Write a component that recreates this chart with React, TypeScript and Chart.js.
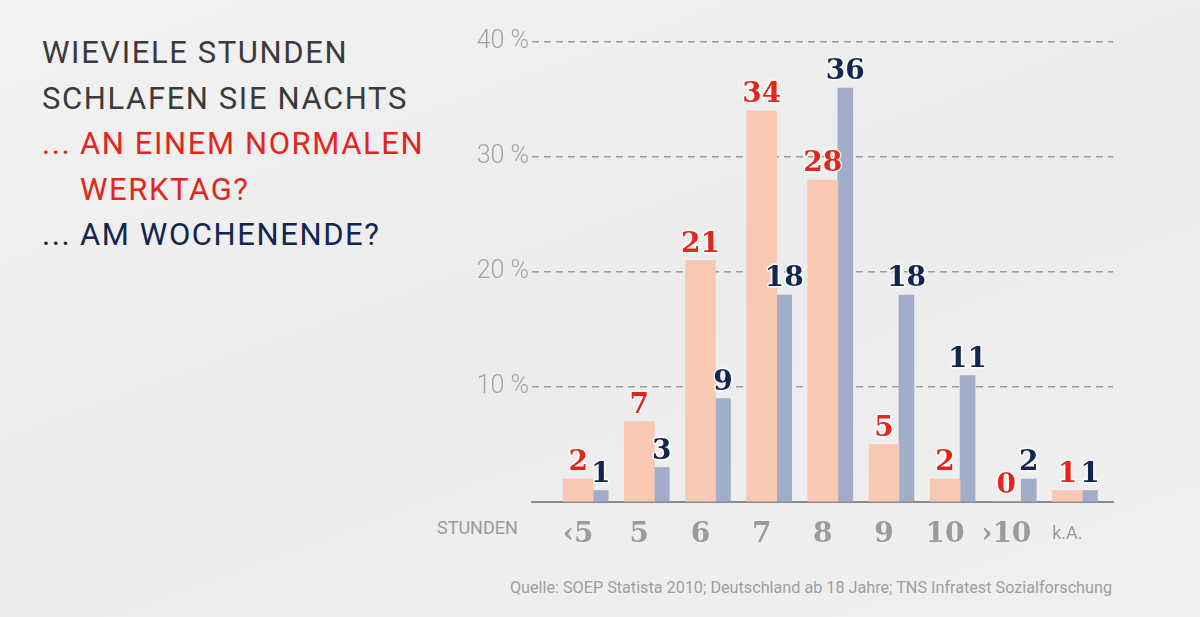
import React, { useEffect, useRef } from 'react';
import { Chart, registerables } from 'chart.js';

Chart.register(...registerables);

const categories = ['‹5', '5', '6', '7', '8', '9', '10', '›10', 'k.A.'];
const werktag = [2, 7, 21, 34, 28, 5, 2, 0, 1];
const wochenende = [1, 3, 9, 18, 36, 18, 11, 2, 1];
const yTickStep = 10;
const yMax = 40;

const PINK = '#f9c8b3';
const BLUE = '#a2adca';
const RED = '#e3261c';
const NAVY = '#112650';
const labelColors = [RED, NAVY];

const valueLabels = {
  id: 'valueLabels',
  afterDatasetsDraw(chart: any) {
    const ctx = chart.ctx;
    chart.data.datasets.forEach((ds: any, di: number) => {
      const meta = chart.getDatasetMeta(di);
      meta.data.forEach((el: any, i: number) => {
        const v = ds.data[i].y;
        ctx.save();
        ctx.font = 'bold 28px "DejaVu Serif"';
        ctx.textAlign = 'center';
        ctx.textBaseline = 'alphabetic';
        ctx.lineJoin = 'round';
        ctx.lineWidth = 3;
        ctx.strokeStyle = 'rgba(255,255,255,0.85)';
        ctx.strokeText(String(v), el.x, el.y - 9);
        ctx.fillStyle = labelColors[di];
        ctx.fillText(String(v), el.x, el.y - 9);
        ctx.restore();
      });
    });
  },
};

export default function App() {
  const ref = useRef<HTMLCanvasElement>(null);
  useEffect(() => {
    document.body.style.margin = '0';
    const chart = new Chart(ref.current as HTMLCanvasElement, {
      type: 'bar',
      data: {
        datasets: [
          {
            label: 'Werktag',
            data: werktag.map((v, i) => ({ x: i, y: v })),
            backgroundColor: PINK,
            barThickness: 30,
          },
          {
            label: 'Wochenende',
            data: wochenende.map((v, i) => ({ x: i, y: v })),
            backgroundColor: BLUE,
            barThickness: 15,
          },
        ] as any,
      },
      options: {
        animation: false,
        responsive: false,
        maintainAspectRatio: false,
        layout: { padding: { left: 452, right: 87, top: 42, bottom: 65 } },
        plugins: { legend: { display: false }, tooltip: { enabled: false } },
        scales: {
          x: {
            type: 'linear',
            min: -1,
            max: categories.length - 0.5,
            offset: false,
            grid: { display: false, offset: false },
            border: { display: true, color: '#8a8a8a', width: 2 },
            ticks: {
              stepSize: 1,
              includeBounds: false,
              autoSkip: false,
              maxRotation: 0,
              labelOffset: (c: any) => (c.tick && c.tick.value === categories.length - 1 ? -10 : -15),
              padding: 8,
              color: '#9b9b9b',
              font: (c: any) =>
                c.tick && c.tick.value === categories.length - 1
                  ? { family: 'Roboto', size: 18, weight: 'normal', lineHeight: 1.87 }
                  : { family: 'DejaVu Serif', size: 28, weight: 'bold', lineHeight: 1.2 },
              callback: (v: any) =>
                Number.isInteger(v) && v >= 0 && v < categories.length ? categories[v] : '',
            },
            afterFit: (s: any) => {
              s.height = 50;
            },
          } as any,
          y: {
            min: 0,
            max: yMax,
            ticks: {
              stepSize: yTickStep,
              padding: 3,
              color: '#a3a3a3',
              font: { family: 'Roboto', size: 25, weight: 300 },
              callback: (v: any) => (v === 0 ? '' : v + ' %'),
            },
            grid: {
              color: (c: any) => (c.tick && c.tick.value === 0 ? 'rgba(0,0,0,0)' : '#9c9c9c'),
              lineWidth: 1.5,
              drawTicks: false,
            },
            border: { display: false, dash: [7, 5] },
            afterFit: (s: any) => {
              s.width = 80;
            },
          } as any,
        },
      },
      plugins: [valueLabels],
    });
    return () => chart.destroy();
  }, []);

  return (
    <div
      style={{
        position: 'absolute',
        left: 0,
        top: 0,
        width: 1200,
        height: 617,
        overflow: 'hidden',
        background: 'linear-gradient(160deg, #f2f2f3 0%, #ececed 50%, #f0f0f1 100%)',
      }}
    >
      <div
        style={{
          position: 'absolute',
          left: 42,
          top: 30,
          fontFamily: 'Roboto',
          fontWeight: 400,
          fontSize: 31,
          letterSpacing: '1.6px',
          lineHeight: '45.5px',
          color: '#3b3b3b',
          whiteSpace: 'nowrap',
        }}
      >
        <div>WIEVIELE STUNDEN</div>
        <div>SCHLAFEN SIE NACHTS</div>
        <div style={{ display: 'flex', color: RED }}>
          <span style={{ width: 38, flex: 'none' }}>...</span>
          <span>
            AN EINEM NORMALEN
            <br />
            WERKTAG?
          </span>
        </div>
        <div style={{ display: 'flex', color: NAVY }}>
          <span style={{ width: 38, flex: 'none' }}>...</span>
          <span>AM WOCHENENDE?</span>
        </div>
      </div>
      <div
        style={{
          position: 'absolute',
          left: 437,
          top: 517,
          fontFamily: 'Roboto',
          fontSize: 18,
          color: '#9a9a9a',
        }}
      >
        STUNDEN
      </div>
      <div
        style={{
          position: 'absolute',
          right: 88,
          top: 578,
          fontFamily: 'Roboto',
          fontSize: 16.2,
          color: '#9e9e9e',
          whiteSpace: 'nowrap',
        }}
      >
        Quelle: SOEP Statista 2010; Deutschland ab 18 Jahre; TNS Infratest Sozialforschung
      </div>
      <canvas
        ref={ref}
        width={1200}
        height={617}
        style={{ position: 'absolute', left: 0, top: 0, width: 1200, height: 617 }}
      />
    </div>
  );
}
